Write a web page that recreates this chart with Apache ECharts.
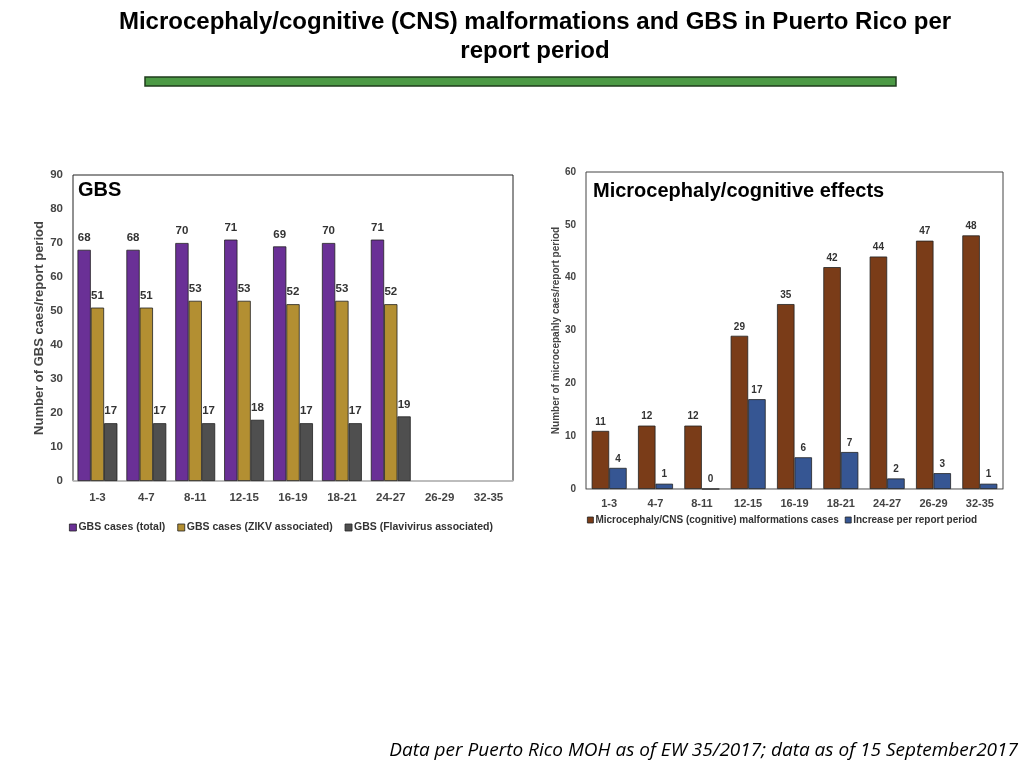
<!DOCTYPE html>
<html>
<head>
<meta charset="utf-8">
<script src="https://cdn.jsdelivr.net/npm/echarts@6/dist/echarts.min.js"></script>
<style>
  html, body { margin: 0; padding: 0; background: #fff; }
  #main { width: 1024px; height: 768px; }
</style>
</head>
<body>
<div id="main"></div>
<script>
// report periods (epi weeks)
var periods = ['1-3', '4-7', '8-11', '12-15', '16-19', '18-21', '24-27', '26-29', '32-35'];

// GBS panel
var gbsTotal = [68, 68, 70, 71, 69, 70, 71, null, null];
var gbsZikv = [51, 51, 53, 53, 52, 53, 52, null, null];
var gbsFlavi = [17, 17, 17, 18, 17, 17, 19, null, null];

// microcephaly panel
var microCases = [11, 12, 12, 29, 35, 42, 44, 47, 48];
var microIncrease = [4, 1, 0, 17, 6, 7, 2, 3, 1];

var sans = '"Liberation Sans", Arial, sans-serif';

var chart = echarts.init(document.getElementById('main'));

function barSeries(name, data, color, axisIdx, size, width, dist) {
  return {
    name: name,
    type: 'bar',
    xAxisIndex: axisIdx,
    yAxisIndex: axisIdx,
    data: data,
    barWidth: width,
    barGap: '0%',
    itemStyle: { color: color, borderColor: '#222', borderWidth: 0.8 },
    label: {
      show: true,
      position: 'top',
      distance: dist,
      color: '#333',
      fontWeight: 'bold',
      fontFamily: sans,
      fontSize: size
    }
  };
}

var option = {
  animation: false,
  backgroundColor: '#fff',
  graphic: [
    {
      type: 'text', x: 535, y: 10,
      style: {
        text: 'Microcephaly/cognitive (CNS) malformations and GBS in Puerto Rico per',
        font: 'bold 24px ' + sans, fill: '#000', textAlign: 'center'
      }
    },
    {
      type: 'text', x: 535, y: 39,
      style: {
        text: 'report period',
        font: 'bold 24px ' + sans, fill: '#000', textAlign: 'center'
      }
    },
    {
      type: 'rect',
      shape: { x: 145, y: 77, width: 751, height: 9 },
      style: { fill: '#4c9a45', stroke: '#1f3d1c', lineWidth: 1.5 }
    },
    {
      type: 'text', x: 78, y: 180,
      style: { text: 'GBS', font: 'bold 20px ' + sans, fill: '#000' }
    },
    {
      type: 'text', x: 593, y: 181,
      style: { text: 'Microcephaly/cognitive effects', font: 'bold 20px ' + sans, fill: '#000' }
    },
    {
      type: 'text', right: 6, top: 741,
      style: {
        text: 'Data per Puerto Rico MOH as of EW 35/2017; data as of 15 September2017',
        font: 'italic 19px "Open Sans", sans-serif',
        fill: '#000'
      }
    }
  ],
  legend: [
    {
      data: ['GBS cases (total)', 'GBS cases (ZIKV associated)', 'GBS (Flavivirus associated)'],
      left: 64, top: 517,
      itemWidth: 7, itemHeight: 7, itemGap: 12,
      icon: 'rect',
      itemStyle: { borderColor: '#222', borderWidth: 0.8 },
      textStyle: { fontFamily: sans, fontWeight: 'bold', fontSize: 10.5, color: '#333', padding: [0, 0, 0, -3] }
    },
    {
      data: ['Microcephaly/CNS (cognitive) malformations cases', 'Increase per report period'],
      left: 582, top: 510,
      itemWidth: 6, itemHeight: 6, itemGap: 6,
      icon: 'rect',
      itemStyle: { borderColor: '#222', borderWidth: 0.8 },
      textStyle: { fontFamily: sans, fontWeight: 'bold', fontSize: 10, color: '#333', padding: [0, 0, 0, -3] }
    }
  ],
  grid: [
    { left: 73, top: 175, width: 440, height: 306, show: true, borderColor: '#222', borderWidth: 1, backgroundColor: 'transparent' },
    { left: 586, top: 172, width: 417, height: 317, show: true, borderColor: '#444', borderWidth: 1, backgroundColor: 'transparent' }
  ],
  xAxis: [
    {
      type: 'category', gridIndex: 0, data: periods,
      axisLine: { lineStyle: { color: '#ccc', width: 1.5 } },
      axisTick: { show: false },
      axisLabel: { fontFamily: sans, fontWeight: 'bold', fontSize: 11.5, color: '#444', margin: 11 }
    },
    {
      type: 'category', gridIndex: 1, data: periods,
      axisLine: { lineStyle: { color: '#aaa', width: 1 } },
      axisTick: { show: false },
      axisLabel: { fontFamily: sans, fontWeight: 'bold', fontSize: 11, color: '#444', margin: 9 }
    }
  ],
  yAxis: [
    {
      type: 'value', gridIndex: 0, min: 0, max: 90, interval: 10,
      name: 'Number of GBS caes/report period',
      nameLocation: 'middle', nameGap: 24,
      nameTextStyle: { fontFamily: sans, fontWeight: 'bold', fontSize: 13, color: '#444' },
      axisLine: { show: false }, axisTick: { show: false }, splitLine: { show: false },
      axisLabel: { fontFamily: sans, fontWeight: 'bold', fontSize: 11.5, color: '#444', margin: 10 }
    },
    {
      type: 'value', gridIndex: 1, min: 0, max: 60, interval: 10,
      name: 'Number of microcepahly caes/report period',
      nameLocation: 'middle', nameGap: 24,
      nameTextStyle: { fontFamily: sans, fontWeight: 'bold', fontSize: 10, color: '#444' },
      axisLine: { show: false }, axisTick: { show: false }, splitLine: { show: false },
      axisLabel: { fontFamily: sans, fontWeight: 'bold', fontSize: 10, color: '#444', margin: 10 }
    }
  ],
  series: [
    barSeries('GBS cases (total)', gbsTotal, '#6a3096', 0, 11.5, 13.3, 6),
    barSeries('GBS cases (ZIKV associated)', gbsZikv, '#b38f32', 0, 11.5, 13.3, 6),
    barSeries('GBS (Flavivirus associated)', gbsFlavi, '#4f4f4f', 0, 11.5, 13.3, 6),
    barSeries('Microcephaly/CNS (cognitive) malformations cases', microCases, '#7a3c18', 1, 10, 17.5, 4),
    barSeries('Increase per report period', microIncrease, '#365693', 1, 10, 17.5, 4)
  ]
};

chart.setOption(option);
</script>
</body>
</html>
